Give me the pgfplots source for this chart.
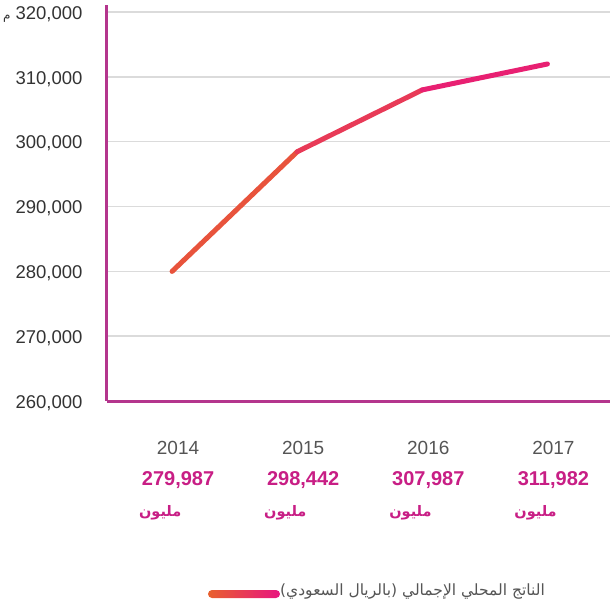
\documentclass[border=0pt]{standalone}
\usepackage{fontspec}
\setmainfont{Liberation Sans}
\newfontfamily\arabicfont[Script=Arabic]{DejaVu Sans}
\TeXXeTstate=1
\usepackage{pgfplots}
\pgfplotsset{compat=1.18}

\definecolor{axisline}{HTML}{B4358D}
\definecolor{valcol}{HTML}{C81E85}
\definecolor{yeargray}{HTML}{555555}
\definecolor{tickgray}{HTML}{333333}
\definecolor{lineorange}{HTML}{E8602E}
\definecolor{linepink}{HTML}{E8147F}

\newcommand{\lab}[2]{{\color{yeargray}\fontsize{19}{31}\selectfont #1}\\{\color{valcol}\bfseries #2}\\{\color{valcol}\makebox[3.9em][l]{\arabicfont\bfseries\fontsize{14.5}{30}\selectfont\beginR مليون\endR}}}

\begin{document}
\begin{tikzpicture}
\begin{axis}[
    scale only axis,
    width=503pt, height=396pt,
    xmin=-0.52, xmax=3.5,
    ymin=260000, ymax=321080,
    axis x line*=bottom, axis y line*=left,
    axis line style={color=axisline, line width=3pt},
    major tick length=0pt,
    ymajorgrids,
    grid style={color=black!14, line width=1.5pt},
    xtick={0,1,2,3},
    xticklabels={\lab{2014}{279,987},\lab{2015}{298,442},\lab{2016}{307,987},\lab{2017}{311,982}},
    xticklabel style={align=center, font=\fontsize{20}{31}\selectfont, anchor=north, yshift=-37pt, xshift=6pt},
    ytick={260000,270000,280000,290000,300000,310000,320000},
    yticklabels={{260,000},{270,000},{280,000},{290,000},{300,000},{310,000},{\smash{\arabicfont\fontsize{12}{15}\selectfont م}\ 320,000}},
    yticklabel style={font=\fontsize{18.5}{22}\selectfont, text=tickgray, anchor=east, xshift=-21pt, yshift=-2pt},
    colormap={gdp}{color=(lineorange) color=(linepink)},
    clip=false,
]
\addplot[mesh, point meta=x, line width=5pt, line cap=round, line join=round] coordinates {
(0,279987) (1,298442) (2,307987) (3,311982)
};
\end{axis}
\begin{scope}[shift={(current axis.south west)}]
\shade[left color=lineorange, right color=linepink, rounded corners=4pt] (101pt,-197pt) rectangle (173pt,-189pt);
\node[anchor=east, text=yeargray, font=\arabicfont\fontsize{15.5}{20}\selectfont, inner sep=0pt] at (438pt,-191pt) {\beginR الناتج المحلي الإجمالي (بالريال السعودي)\endR};
\end{scope}
\pgfresetboundingbox
\begin{scope}[shift={(current axis.south west)}]
\path[use as bounding box] (-107pt,-213pt) rectangle (503pt,401pt);
\end{scope}
\end{tikzpicture}
\end{document}
